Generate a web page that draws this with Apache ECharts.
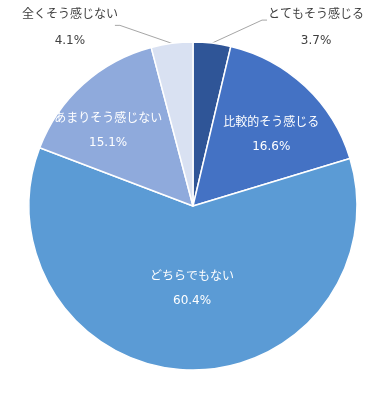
<!DOCTYPE html>
<html>
<head>
<meta charset="utf-8">
<script src="https://cdn.jsdelivr.net/npm/echarts@6/dist/echarts.min.js"></script>
<style>
html,body{margin:0;padding:0;background:#fff;}
#chart{width:381px;height:401px;}
</style>
</head>
<body>
<div id="chart"></div>
<script>
// ---- data ----
const categories = ['とてもそう感じる', '比較的そう感じる', 'どちらでもない', 'あまりそう感じない', '全くそう感じない'];
const values = [3.7, 16.6, 60.4, 15.1, 4.1];

// ---- styles ----
const colors = ['#2F5597', '#4472C4', '#5B9BD5', '#8FAADC', '#D9E1F2'];
const outsideIdx = [0, 4];
const insideOffsets = {1: [20, -9], 2: [2, -2], 3: [-28, -12]};
// label block offset from slice edge anchor, and leader bend offsets
const outsideCfg = {
  0: {dx: 104, dy: -15, bend: [50, -23], end: [55, -23]},
  4: {dx: -102, dy: -15, bend: [-52, -18], end: [-57, -18]}
};
const fontFamily = '"DejaVu Sans", "Noto Sans CJK JP", sans-serif';

const data = categories.map((name, i) => {
  const outside = outsideIdx.indexOf(i) >= 0;
  return {
    name: name,
    value: values[i],
    itemStyle: {color: colors[i]},
    label: outside ? {
      position: 'outside', color: '#404040', lineHeight: 26, align: 'center'
    } : {
      position: 'inside', color: '#ffffff', lineHeight: 24, offset: insideOffsets[i]
    },
    labelLine: {show: outside, length: 10, length2: 10,
      lineStyle: {color: '#A6A6A6', width: 1}}
  };
});

const chart = echarts.init(document.getElementById('chart'), null, {renderer: 'canvas'});
chart.setOption({
  backgroundColor: '#ffffff',
  animation: false,
  series: [{
    type: 'pie',
    center: [193, 206],
    radius: [0, 164],
    startAngle: 90,
    clockwise: true,
    avoidLabelOverlap: false,
    itemStyle: {borderColor: '#ffffff', borderWidth: 1.5},
    label: {
      show: true,
      fontSize: 12,
      fontFamily: fontFamily,
      formatter: function (p) { return p.name + '\n' + p.value + '%'; }
    },
    labelLayout: function (params) {
      const cfg = outsideCfg[params.dataIndex];
      if (!cfg || !params.labelLinePoints) return {};
      const a = params.labelLinePoints[0];
      return {
        x: a[0] + cfg.dx,
        y: a[1] + cfg.dy,
        align: 'center',
        verticalAlign: 'middle',
        labelLinePoints: [
          [a[0], a[1]],
          [a[0] + cfg.bend[0], a[1] + cfg.bend[1]],
          [a[0] + cfg.end[0], a[1] + cfg.end[1]]
        ]
      };
    },
    data: data
  }]
});
</script>
</body>
</html>
